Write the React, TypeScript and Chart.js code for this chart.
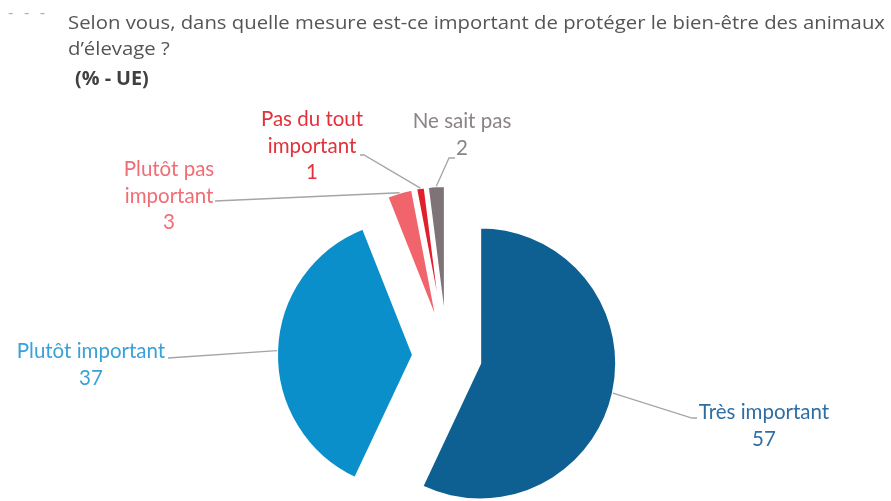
import { useEffect, useRef } from "react";
import { Chart, registerables, ArcElement, PieController } from "chart.js";

Chart.register(...registerables);

// Survey answers (% - UE), clockwise from twelve o'clock
const categories = [
  "Très important",
  "Plutôt important",
  "Plutôt pas important",
  "Pas du tout important",
  "Ne sait pas",
];
const shares = [57, 37, 3, 1, 2];
const labelLines = [
  ["Très important"],
  ["Plutôt important"],
  ["Plutôt pas", "important"],
  ["Pas du tout", "important"],
  ["Ne sait pas"],
];

const titleLines = [
  "Selon vous, dans quelle mesure est-ce important de protéger le bien-être des animaux",
  "d’élevage ?",
];
const subtitle = "(% - UE)";

// Styling
const sliceColors = ["#0e6093", "#0b8fcb", "#f1646b", "#e1202c", "#7e7377"];
const labelColors = ["#2f6ea3", "#3aa0d8", "#f06d74", "#e2313b", "#8b8386"];
const EXPLODE = 34; // distance each slice is pulled out from the centre
const PIE_RADIUS = 136;
const LABEL_FONT = '20.5px "Lato"';
const LINE_HEIGHT = 26.5;
const LEADER_COLOR = "#a5a5a5";

// Label block placement: centre x, first baseline, and leader bend points
const labelLayout = [
  { x: 764, y: 419, path: [[692, 418], [697, 418]] },
  { x: 91, y: 358, path: [[168, 358]] },
  { x: 169, y: 176, path: [[215, 201]] },
  { x: 312, y: 126, path: [[364, 155], [360, 155]] },
  { x: 462, y: 128, path: [[449, 158], [455, 158]] },
];

// Arc that is drawn pushed outwards along its bisector, keeping its radius
class ExplodedArc extends ArcElement {
  static id = "explodedArc";
  draw(ctx: CanvasRenderingContext2D) {
    const self = this as any;
    const mid = (self.startAngle + self.endAngle) / 2;
    ctx.save();
    ctx.translate(Math.cos(mid) * EXPLODE, Math.sin(mid) * EXPLODE);
    super.draw(ctx);
    ctx.restore();
  }
}

class ExplodedPieController extends PieController {
  static id = "explodedPie";
  static defaults = { dataElementType: "explodedArc" };
}

Chart.register(ExplodedArc as any, ExplodedPieController as any);

const calloutPlugin = {
  id: "callouts",
  afterDatasetsDraw(chart: any) {
    const ctx: CanvasRenderingContext2D = chart.ctx;
    const arcs = chart.getDatasetMeta(0).data;
    ctx.save();
    arcs.forEach((arc: any, i: number) => {
      const mid = (arc.startAngle + arc.endAngle) / 2;
      const cx = arc.x + Math.cos(mid) * EXPLODE;
      const cy = arc.y + Math.sin(mid) * EXPLODE;
      const sx = cx + Math.cos(mid) * arc.outerRadius;
      const sy = cy + Math.sin(mid) * arc.outerRadius;
      const lay = labelLayout[i];

      ctx.beginPath();
      ctx.moveTo(sx, sy);
      lay.path.forEach(([px, py]) => ctx.lineTo(px, py));
      ctx.strokeStyle = LEADER_COLOR;
      ctx.lineWidth = 1.3;
      ctx.stroke();

      ctx.font = LABEL_FONT;
      ctx.fillStyle = labelColors[i];
      ctx.textAlign = "center";
      ctx.textBaseline = "alphabetic";
      const lines = [...labelLines[i], String(shares[i])];
      lines.forEach((t, k) => ctx.fillText(t, lay.x, lay.y + k * LINE_HEIGHT));
    });
    ctx.restore();
  },
};

export default function App() {
  const ref = useRef<HTMLCanvasElement | null>(null);

  useEffect(() => {
    const canvas = ref.current!;
    const chart = new Chart(canvas, {
      type: "explodedPie" as any,
      data: {
        labels: categories,
        datasets: [
          {
            data: shares,
            backgroundColor: sliceColors,
            borderColor: "#ffffff",
            borderWidth: 2,
            clip: false as any,
          },
        ],
      },
      options: {
        responsive: false,
        animation: false,
        radius: PIE_RADIUS,
        layout: { padding: { left: 3, right: 0, top: 211, bottom: 0 } },
        plugins: { legend: { display: false }, tooltip: { enabled: false } },
      } as any,
      plugins: [calloutPlugin],
    });
    return () => chart.destroy();
  }, []);

  const titleStyle: React.CSSProperties = {
    position: "absolute",
    left: 68,
    margin: 0,
    fontFamily: '"Open Sans", sans-serif',
    fontSize: 18.5,
    lineHeight: "20px",
    color: "#555555",
    whiteSpace: "nowrap",
    transformOrigin: "left center",
  };

  return (
    <div
      style={{
        position: "fixed",
        left: 0,
        top: 0,
        width: 891,
        height: 501,
        background: "#ffffff",
        overflow: "hidden",
      }}
    >
      <canvas ref={ref} width={891} height={501} style={{ position: "absolute", left: 0, top: 0 }} />
      <div
        style={{
          position: "absolute",
          left: 8,
          top: 2,
          fontFamily: '"Open Sans", sans-serif',
          fontSize: 17,
          lineHeight: "20px",
          color: "#b0b0b0",
          letterSpacing: 3,
          whiteSpace: "pre",
        }}
      >
        - - -
      </div>
      <div style={{ ...titleStyle, top: 12, transform: "scaleX(1.098)" }}>{titleLines[0]}</div>
      <div style={{ ...titleStyle, top: 38, transform: "scaleX(1.098)" }}>{titleLines[1]}</div>
      <div
        style={{
          ...titleStyle,
          left: 75,
          top: 68,
          fontSize: 19,
          fontWeight: 700,
          color: "#404040",
          transform: "scaleX(1.04)",
        }}
      >
        {subtitle}
      </div>
    </div>
  );
}
